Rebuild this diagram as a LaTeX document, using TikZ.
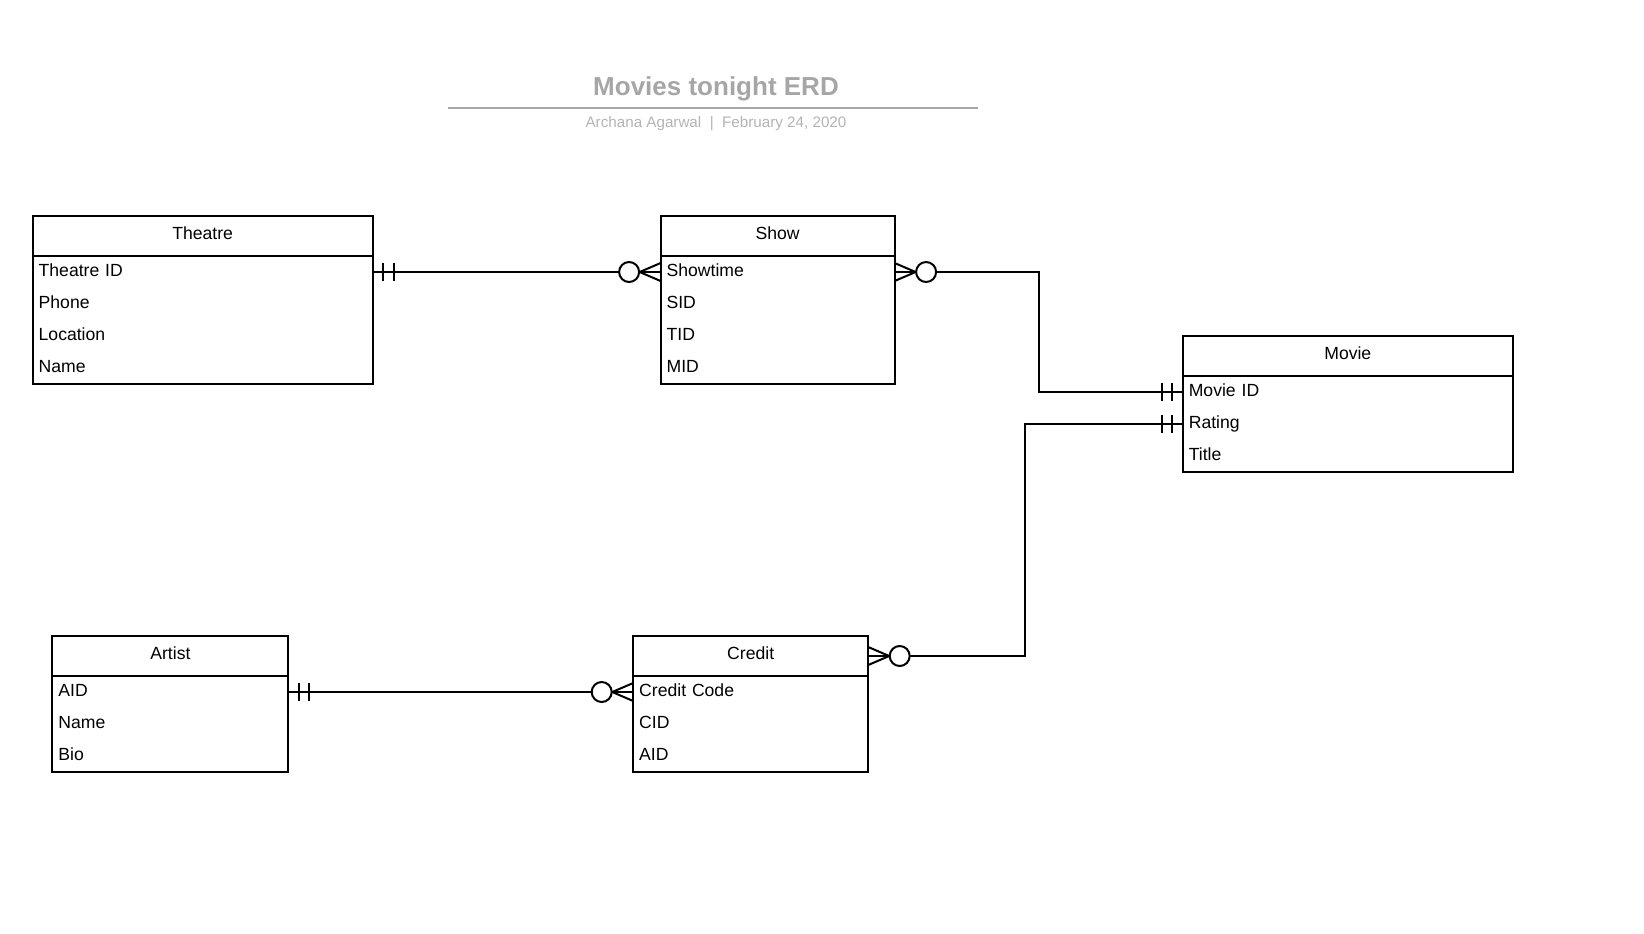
\documentclass[tikz,border=0pt]{standalone}
\usepackage{fontspec}
\setmainfont{Liberation Sans}
\usepackage{tikz}

\definecolor{titlegray}{HTML}{A6A6A6}
\definecolor{subgray}{HTML}{B3B3B3}

\begin{document}
\begin{tikzpicture}[x=0.5pt, y=-0.5pt, line width=1pt,
    head/.style={draw, inner sep=0pt, outer sep=0pt, minimum height=20pt,
      text height=6.6pt, text depth=3pt, font=\fontsize{8.8}{10}\selectfont},
    row/.style={inner xsep=3pt, inner ysep=0pt, outer sep=0pt, minimum height=16pt, align=left,
      text height=6.6pt, text depth=1.9pt, font=\fontsize{8.8}{10}\selectfont},
    zero/.style={draw, fill=white, circle, inner sep=0pt, minimum size=10pt}]
    \useasboundingbox (0,0) rectangle (1644,933);

    % title block
    \node (title) at (716,89.2) [font=\bfseries\fontsize{13}{15}\selectfont, text=titlegray] {Movies tonight ERD};
    \node (sub) at (716,123.7) [font=\fontsize{7.6}{9}\selectfont, text=subgray] {Archana Agarwal~~|~~February 24, 2020};
    \draw[titlegray] (447.7,108) -- (978.3,108);

    % entities
    \node (theatre) at (202.7,236) [head, minimum width=170pt] {Theatre};
    \foreach \t [count=\i] in {Theatre ID, Phone, Location, Name}
        \node (theatre-\i) at (202.7,240+32*\i) [row, text width=164pt] {\t};
    \draw (theatre-1.north west) rectangle (theatre-4.south east);

    \node (show) at (777.6,236) [head, minimum width=117pt] {Show};
    \foreach \t [count=\i] in {Showtime, SID, TID, MID}
        \node (show-\i) at (777.6,240+32*\i) [row, text width=111pt] {\t};
    \draw (show-1.north west) rectangle (show-4.south east);

    \node (movie) at (1347.8,356) [head, minimum width=165pt] {Movie};
    \foreach \t [count=\i] in {Movie ID, Rating, Title}
        \node (movie-\i) at (1347.8,360+32*\i) [row, text width=159pt] {\t};
    \draw (movie-1.north west) rectangle (movie-3.south east);

    \node (artist) at (170.4,656) [head, minimum width=118pt] {Artist};
    \foreach \t [count=\i] in {AID, Name, Bio}
        \node (artist-\i) at (170.4,660+32*\i) [row, text width=112pt] {\t};
    \draw (artist-1.north west) rectangle (artist-3.south east);

    \node (credit) at (750.7,656) [head, minimum width=117.5pt] {Credit};
    \foreach \t [count=\i] in {Credit Code, CID, AID}
        \node (credit-\i) at (750.7,660+32*\i) [row, text width=111.5pt] {\t};
    \draw (credit-1.north west) rectangle (credit-3.south east);

    % relationships
    \draw (theatre-1.east) -- (show-1.west);
    \draw (show-1.east) -- ++(144,0) |- (movie-1.west);
    \draw (movie-2.west) -- ++(-158,0) |- (credit.east);
    \draw (artist-1.east) -- (credit-1.west);

    % one and only one
    \foreach \a/\s in {theatre-1.east/1, movie-1.west/-1, movie-2.west/-1, artist-1.east/1}
        \draw ([xshift=\s*5.25pt]\a) ++(0,-9) -- ++(0,18)
              ([xshift=\s*10.5pt]\a) ++(0,-9) -- ++(0,18);

    % zero or many
    \foreach \a/\s [count=\i] in {show-1.west/-1, show-1.east/1, credit.east/1, credit-1.west/-1} {
        \draw ([yshift=4.5pt]\a) -- ([xshift=\s*10.5pt]\a) -- ([yshift=-4.5pt]\a);
        \node (zero-\i) at ([xshift=\s*15.75pt]\a) [zero] {};
    }
\end{tikzpicture}
\end{document}
